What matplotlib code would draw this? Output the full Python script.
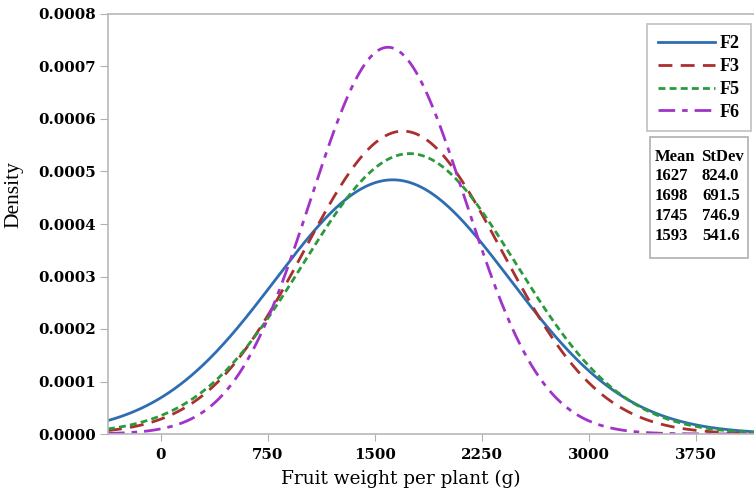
import numpy as np
import matplotlib
matplotlib.use("Agg")
import matplotlib.pyplot as plt
from matplotlib.patches import Rectangle

# Data (from the reference's table)
generations = ["F2", "F3", "F5", "F6"]
means = [1627, 1698, 1745, 1593]
stdevs = [824.0, 691.5, 746.9, 541.6]
mean_labels = ["1627", "1698", "1745", "1593"]
stdev_labels = ["824.0", "691.5", "746.9", "541.6"]
x_ticks = [0, 750, 1500, 2250, 3000, 3750]
y_ticks = [0.0, 0.0001, 0.0002, 0.0003, 0.0004, 0.0005, 0.0006, 0.0007, 0.0008]

colors = ["#2f6db3", "#a8302e", "#2b9a3c", "#a133c9"]
styles = ["-", (0, (5, 3)), (0, (2.5, 1.5)), (0, (6, 2.5, 2, 2.5))]

plt.rcParams['font.family'] = ['Liberation Serif', 'DejaVu Serif']

fig = plt.figure(figsize=(7.54, 4.9), dpi=100)
ax = fig.add_axes([108/754, 56/490, 1 - 108/754, (434-14)/490])

xmin, xmax = -370, 4160
x = np.linspace(xmin, xmax, 800)
for g, m, s, c, ls in zip(generations, means, stdevs, colors, styles):
    y = np.exp(-0.5 * ((x - m) / s) ** 2) / (s * np.sqrt(2 * np.pi))
    ax.plot(x, y, color=c, linestyle=ls, lw=2.0, label=g)

ax.set_xlim(xmin, xmax)
ax.set_ylim(0, 0.0008)
tick_font = dict(family=['DejaVu Serif'], weight='bold', size=10.8)
ax.set_xticks(x_ticks)
ax.set_xticklabels([str(v) for v in x_ticks], fontdict=tick_font)
ax.set_yticks(y_ticks)
ax.set_yticklabels([f"{v:.4f}" for v in y_ticks], fontdict=tick_font)
ax.tick_params(axis='x', direction='out', length=5, color='#b0b0b0', pad=5)
ax.tick_params(axis='y', direction='out', length=6, color='#b0b0b0', pad=3)
for sp in ['left', 'bottom', 'top']:
    ax.spines[sp].set_color('#b8b8b8')
    ax.spines[sp].set_linewidth(1.2)
ax.spines['right'].set_visible(False)

ax.set_xlabel("Fruit weight per plant (g)", family=['DejaVu Serif'], fontsize=13.3)
ax.xaxis.set_label_coords(0.4536, -0.086)
ax.set_ylabel("Density", family=['Liberation Serif'], fontsize=15.5)
ax.yaxis.set_label_coords(-0.131, 0.569)

leg = ax.legend(loc='upper right', bbox_to_anchor=(0.995, 0.975), frameon=True,
                fancybox=False, edgecolor='#b0b0b0', handlelength=3.2,
                handletextpad=0.25, borderpad=0.6, labelspacing=0.32,
                borderaxespad=0.0,
                prop={'family': 'Liberation Serif', 'weight': 'bold', 'size': 13})
leg.get_frame().set_linewidth(1.2)

# Stats table box
fig_w, fig_h = 754, 490
def fx(px):
    return px / fig_w
def fy(py):
    return 1 - py / fig_h
rect = Rectangle((fx(650), fy(258)), fx(748) - fx(650), fy(137) - fy(258),
                 transform=fig.transFigure, fill=False, edgecolor='#b0b0b0', lw=1.2)
fig.patches.append(rect)
fig.text(fx(655), fy(157), "Mean", fontsize=12, fontweight='bold', va='center')
fig.text(fx(701), fy(157), "StDev", fontsize=12, fontweight='bold', va='center')
for i, (ml, sl) in enumerate(zip(mean_labels, stdev_labels)):
    yy = fy(176 + i * 20)
    fig.text(fx(655), yy, ml, fontsize=12, fontweight='bold', va='center')
    fig.text(fx(702), yy, sl, fontsize=12, fontweight='bold', va='center')

fig.savefig("out.png", dpi=100)
